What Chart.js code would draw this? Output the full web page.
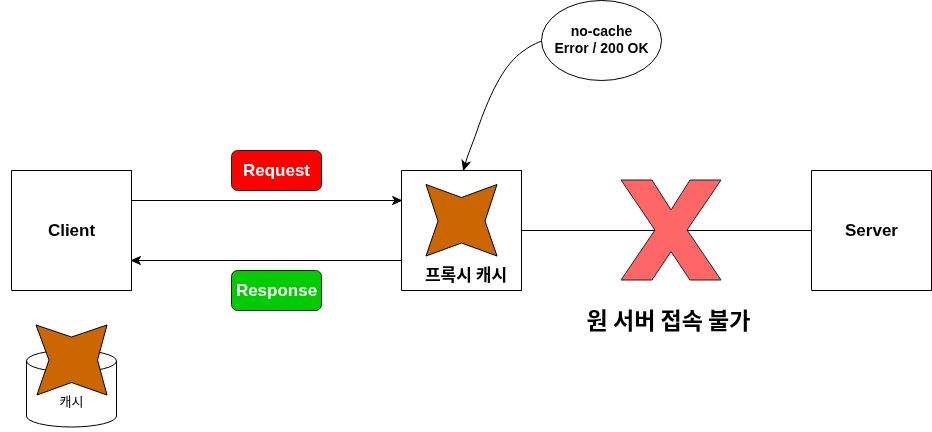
<!DOCTYPE html>
<html><head><meta charset="utf-8">
<script src="https://cdn.jsdelivr.net/npm/chart.js@4.4.1/dist/chart.umd.min.js"></script>
<style>html,body{margin:0;padding:0;background:#fff}#wrap{width:932px;height:432px;position:relative}</style>
</head><body><div id="wrap"><canvas id="c"></canvas></div>
<script>
// ---- diagram content ----
const boxNames   = ['Client', '', 'Server'];
const boxLeft    = [11.5, 401.5, 811.5];
const boxTop     = [170.5, 170.5, 170.5];
const boxRight   = [131.5, 521.5, 931.5];
const boxBottom  = [290.5, 290.5, 290.5];

const edgeRequest  = [[131.5, 200.5], [401.5, 200.5]];
const edgeResponse = [[401.5, 260.5], [131.5, 260.5]];
const edgeServer   = [[521.5, 230.5], [811.5, 230.5]];
const edgeNote     = [[541.5, 41], [530, 46.5], [516.5, 56.5], [505, 70], [493.5, 90], [483.5, 113], [475, 136.5], [467, 158], [463.5, 170]];

const proxyStar = [[426,184.5],[461.5,197.5],[497,184.5],[485,221],[497,256],[461.5,243],[426,256],[438,221],[426,184.5]];
const cacheStar = [[36,325],[71.5,337],[107,325],[97.5,360],[107,395],[71.5,382.5],[37,395],[49,360],[36,325]];
const crossMark = [[621,180],[652,180],[671,210],[690,180],[721,180],[687,230],[721,280],[690,280],[671,251.5],[652,280],[621,280],[655,230],[621,180]];

const badgeTexts  = ['Request', 'Response'];
const badgeCenter = [[276.5, 170.5], [276.5, 290.5]];
const badgeColors = ['#FF0000', '#00CC00'];

const noteLines  = ['no-cache', 'Error / 200 OK'];
const noteCenter = [601.5, 40.5];

const captions = [
  {text: 'Client', x: 71.5, y: 231, font: 'bold 17px "Liberation Sans", Arial, sans-serif'},
  {text: 'Server', x: 871.5, y: 231, font: 'bold 17px "Liberation Sans", Arial, sans-serif'},
  {text: '프록시 캐시', x: 466, y: 275, font: 'bold 17px "Noto Sans CJK KR", sans-serif'},
  {text: '원 서버 접속 불가', x: 668.5, y: 320, font: 'bold 23px "Noto Sans CJK KR", sans-serif'},
  {text: '캐시', x: 71.5, y: 401, font: '13px "Noto Sans CJK KR", sans-serif'}
];
const cylinder = {cx: 71.5, top: 361, bottom: 416, rx: 45, ry: 11};

// ---- datasets ----
const toPts = a => a.map(p => ({x: p[0], y: p[1]}));
const base = {showLine: true, pointRadius: 0, borderWidth: 1, borderColor: '#000', tension: 0, fill: false};
const list = [];
list.push(Object.assign({}, base, {data: toPts(edgeServer)}));
list.push(Object.assign({}, base, {data: toPts(edgeRequest), arrow: true}));
list.push(Object.assign({}, base, {data: toPts(edgeResponse), arrow: true}));
list.push(Object.assign({}, base, {data: toPts(edgeNote), arrow: true, tension: 0.3}));
boxNames.forEach((n, i) => {
  list.push(Object.assign({}, base, {data: toPts([[boxLeft[i],boxTop[i]],[boxRight[i],boxTop[i]],[boxRight[i],boxBottom[i]],[boxLeft[i],boxBottom[i]],[boxLeft[i],boxTop[i]]])}));
});
list.push(Object.assign({}, base, {data: toPts(crossMark), polyFill: '#FF6666', borderColor: '#222'}));
list.push(Object.assign({}, base, {data: toPts(proxyStar), polyFill: '#CC6600'}));
list.push(Object.assign({}, base, {data: toPts(cacheStar), polyFill: '#CC6600'}));
list.forEach((d, i) => d.order = list.length - i);

function arrowHead(ctx, tip, from) {
  const ang = Math.atan2(tip.y - from.y, tip.x - from.x);
  ctx.save(); ctx.translate(tip.x, tip.y); ctx.rotate(ang);
  ctx.beginPath(); ctx.moveTo(0, 0); ctx.lineTo(-9, -4); ctx.lineTo(-6.5, 0); ctx.lineTo(-9, 4); ctx.closePath();
  ctx.fillStyle = '#000'; ctx.strokeStyle = '#000'; ctx.lineWidth = 1; ctx.fill(); ctx.stroke();
  ctx.restore();
}

const diagramPlugin = {
  id: 'diagram',
  beforeDatasetsDraw(chart) {
    const ctx = chart.ctx, xs = chart.scales.x, ys = chart.scales.y;
    const cx = xs.getPixelForValue(cylinder.cx), t = ys.getPixelForValue(cylinder.top), b = ys.getPixelForValue(cylinder.bottom);
    const rx = cylinder.rx, ry = cylinder.ry;
    ctx.save(); ctx.strokeStyle = '#000'; ctx.lineWidth = 1; ctx.fillStyle = '#fff';
    ctx.beginPath(); ctx.moveTo(cx - rx, t); ctx.lineTo(cx - rx, b); ctx.ellipse(cx, b, rx, ry, 0, Math.PI, 0, true); ctx.lineTo(cx + rx, t); ctx.closePath(); ctx.fill(); ctx.stroke();
    ctx.beginPath(); ctx.ellipse(cx, t, rx, ry, 0, 0, Math.PI * 2); ctx.fill(); ctx.stroke();
    ctx.restore();
  },
  beforeDatasetDraw(chart, args) {
    const ds = chart.data.datasets[args.index];
    if (!ds.polyFill) return;
    const pts = args.meta.data, ctx = chart.ctx;
    ctx.save(); ctx.beginPath();
    pts.forEach((p, i) => i ? ctx.lineTo(p.x, p.y) : ctx.moveTo(p.x, p.y));
    ctx.closePath(); ctx.fillStyle = ds.polyFill; ctx.fill(); ctx.restore();
  },
  afterDatasetsDraw(chart) {
    const ctx = chart.ctx, xs = chart.scales.x, ys = chart.scales.y;
    chart.data.datasets.forEach((ds, i) => {
      if (!ds.arrow) return;
      const pts = chart.getDatasetMeta(i).data;
      arrowHead(ctx, pts[pts.length - 1], pts[pts.length - 2]);
    });
    // badges
    ctx.save();
    badgeTexts.forEach((t, i) => {
      const x = xs.getPixelForValue(badgeCenter[i][0]), y = ys.getPixelForValue(badgeCenter[i][1]);
      ctx.beginPath(); ctx.roundRect(x - 45, y - 20, 90, 40, 6);
      ctx.fillStyle = badgeColors[i]; ctx.fill(); ctx.strokeStyle = '#222'; ctx.lineWidth = 1; ctx.stroke();
      ctx.fillStyle = '#fff'; ctx.font = 'bold 17px "Liberation Sans", Arial, sans-serif';
      ctx.textAlign = 'center'; ctx.textBaseline = 'middle'; ctx.fillText(t, x, y + 1);
    });
    // note ellipse
    const nx = xs.getPixelForValue(noteCenter[0]), ny = ys.getPixelForValue(noteCenter[1]);
    ctx.beginPath(); ctx.ellipse(nx, ny, 60, 40, 0, 0, Math.PI * 2);
    ctx.fillStyle = '#fff'; ctx.fill(); ctx.strokeStyle = '#000'; ctx.stroke();
    ctx.fillStyle = '#000'; ctx.font = 'bold 14px "Liberation Sans", Arial, sans-serif';
    ctx.textAlign = 'center'; ctx.textBaseline = 'middle';
    ctx.fillText(noteLines[0], nx, ny - 8);
    ctx.fillText(noteLines[1], nx, ny + 9);
    // captions
    captions.forEach(c => {
      ctx.font = c.font; ctx.fillStyle = '#000';
      ctx.fillText(c.text, xs.getPixelForValue(c.x), ys.getPixelForValue(c.y));
    });
    ctx.restore();
  }
};

new Chart(document.getElementById('c'), {
  type: 'scatter',
  data: {datasets: list},
  options: {
    responsive: true, maintainAspectRatio: false, animation: false, events: [],
    layout: {padding: 0},
    plugins: {legend: {display: false}, tooltip: {enabled: false}},
    scales: {
      x: {type: 'linear', min: 0, max: 932, display: false},
      y: {type: 'linear', min: 0, max: 432, reverse: true, display: false}
    }
  },
  plugins: [diagramPlugin]
});
</script></body></html>
